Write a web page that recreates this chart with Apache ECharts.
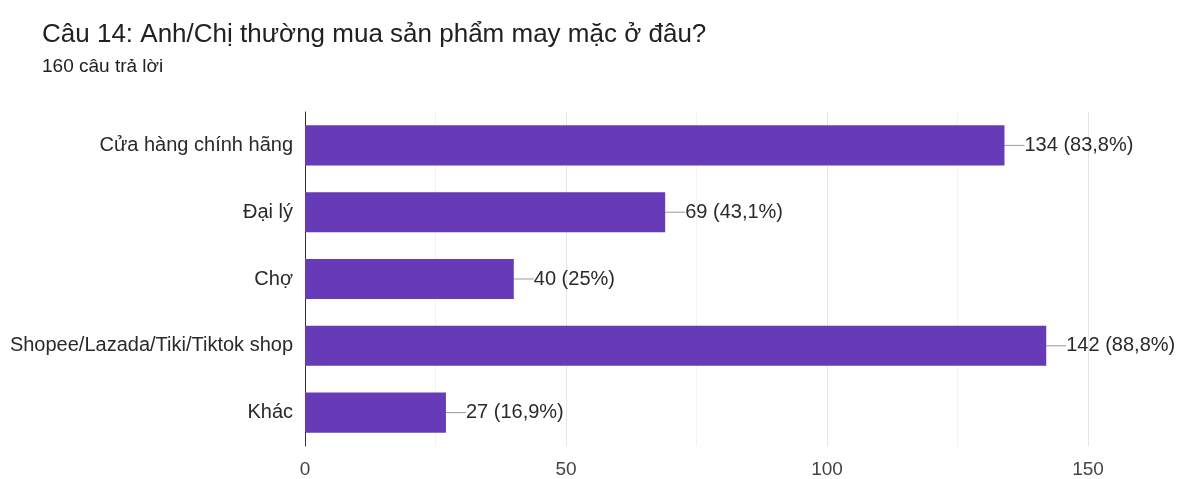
<!DOCTYPE html>
<html>
<head>
<meta charset="utf-8">
<style>
  html, body { margin: 0; padding: 0; background: #fff; }
  #chart { width: 1179px; height: 479px; }
</style>
<script src="https://cdn.jsdelivr.net/npm/echarts@6/dist/echarts.min.js"></script>
</head>
<body>
<div id="chart"></div>
<script>
const titleText = 'Câu 14: Anh/Chị thường mua sản phẩm may mặc ở đâu?';
const subtitleText = '160 câu trả lời';
const categories = ['Cửa hàng chính hãng', 'Đại lý', 'Chợ', 'Shopee/Lazada/Tiki/Tiktok shop', 'Khác'];
const counts = [134, 69, 40, 142, 27];
const percents = ['83,8%', '43,1%', '25%', '88,8%', '16,9%'];
const xTicks = [0, 50, 100, 150];

const chart = echarts.init(document.getElementById('chart'));
const font = '"Liberation Sans", Arial, sans-serif';

chart.setOption({
  animation: false,
  backgroundColor: '#ffffff',
  title: {
    text: titleText,
    subtext: subtitleText,
    left: 37,
    top: 17,
    itemGap: 9,
    textStyle: { fontFamily: font, fontSize: 26, fontWeight: 'normal', color: '#202124' },
    subtextStyle: { fontFamily: font, fontSize: 19, color: '#202124' }
  },
  grid: { left: 305, right: 91, top: 112, bottom: 33, containLabel: false },
  xAxis: {
    type: 'value',
    min: xTicks[0],
    max: xTicks[xTicks.length - 1],
    interval: 50,
    axisLine: { show: false },
    axisTick: { show: false },
    axisLabel: { fontFamily: font, fontSize: 19, color: '#444', margin: 14 },
    splitLine: { show: true, lineStyle: { color: '#e6e6e6', width: 1 } },
    minorTick: { show: false, splitNumber: 2 },
    minorSplitLine: { show: true, lineStyle: { color: '#f3f3f3', width: 1 } }
  },
  yAxis: {
    type: 'category',
    data: categories,
    inverse: true,
    axisLine: { show: true, lineStyle: { color: '#333', width: 1 } },
    axisTick: { show: false },
    axisLabel: { fontFamily: font, fontSize: 20, color: '#2a2a2a', margin: 12 }
  },
  series: [{
    type: 'bar',
    data: counts,
    barCategoryGap: '40%',
    itemStyle: { color: '#673ab7' },
    label: {
      show: true,
      position: 'right',
      distance: 0,
      fontFamily: font,
      fontSize: 20,
      color: '#2a2a2a',
      formatter: p => p.value + ' (' + percents[p.dataIndex] + ')'
    },
    labelLayout: { dx: 20 },
    labelLine: { show: true, length2: 0, lineStyle: { color: '#999', width: 1 } }
  }]
});
</script>
</body>
</html>
